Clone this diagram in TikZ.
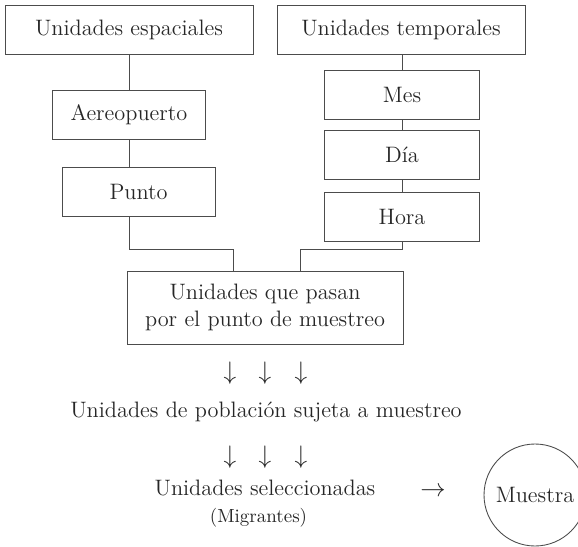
\documentclass[tikz,border=0pt]{standalone}
\usepackage{tikz}
\usetikzlibrary{positioning}
\usepackage{amsmath}
\usepackage{amssymb}

\begin{document}
\begin{tikzpicture}[
  unitbox/.style={draw=black!70, line width=0.5pt, text=black!85, minimum height=0.98cm, inner sep=0pt},
  link/.style={draw=black!70, line width=0.5pt},
  plain/.style={text=black!85, inner sep=0pt},
  down/.style={plain, font=\fontsize{14.5}{15}\selectfont},
  font=\fontsize{12.7}{15.3}\selectfont]
\useasboundingbox (0,0) rectangle (11.56,-10.92);
%\draw[help lines, color=gray!30] (0,0) grid (11.56,-10.92);
\node [unitbox, minimum width=4.96cm] (esp) at (2.58,-0.59) {Unidades espaciales};
\node [unitbox, minimum width=4.96cm] (temp) at (8.02,-0.59) {Unidades temporales};
\node [unitbox, minimum width=3.06cm] (aero) at (2.58,-2.29) {Aereopuerto};
\node [unitbox, minimum width=3.06cm] (punto) at (2.77,-3.83) {Punto};
\node [unitbox, minimum width=3.1cm] (mes) at (8.04,-1.89) {Mes};
\node [unitbox, minimum width=3.1cm] (dia) at (8.04,-3.09) {Día};
\node [unitbox, minimum width=3.1cm] (hora) at (8.04,-4.33) {Hora};
\node [unitbox, minimum width=5.52cm, minimum height=1.46cm, align=center] (paso) at (5.30,-6.15)
  {Unidades que pasan\\por el punto de muestreo};

\draw [link] (esp.south -| aero.north) -- (aero.north);
\draw [link] (aero.south) -- (aero.south |- punto.north);
\draw [link] (temp.south -| mes.north) -- (mes.north);
\draw [link] (mes) -- (dia);
\draw [link] (dia) -- (hora);
\coordinate (l_bend) at (4.66,-4.98);
\coordinate (r_bend) at (6.0,-4.98);
\draw [link] (aero.south |- punto.south) |- (l_bend) -- (l_bend |- paso.north);
\draw [link] (hora.south) |- (r_bend) -- (r_bend |- paso.north);

\node [down] (d1) at (4.6,-7.46) {$\downarrow$};
\node [down] (d2) at (5.3,-7.46) {$\downarrow$};
\node [down] (d3) at (6.02,-7.46) {$\downarrow$};
\node [plain] (pob) at (5.32,-8.24) {Unidades de población sujeta a muestreo};
\node [down] (d4) at (4.6,-9.14) {$\downarrow$};
\node [down] (d5) at (5.3,-9.14) {$\downarrow$};
\node [down] (d6) at (6.02,-9.14) {$\downarrow$};
\node [plain] (sel) at (5.3,-9.76) {Unidades seleccionadas};
\node [plain, font=\fontsize{10.8}{12}\selectfont] (migr) at (5.17,-10.36) {(Migrantes)};
\node [down] (flecha) at (8.66,-9.84) {$\rightarrow$};
\node [plain] (muestra) at (10.7,-9.9) {Muestra};
\draw [link] (muestra) circle (1.02cm);
\end{tikzpicture}
\end{document}
